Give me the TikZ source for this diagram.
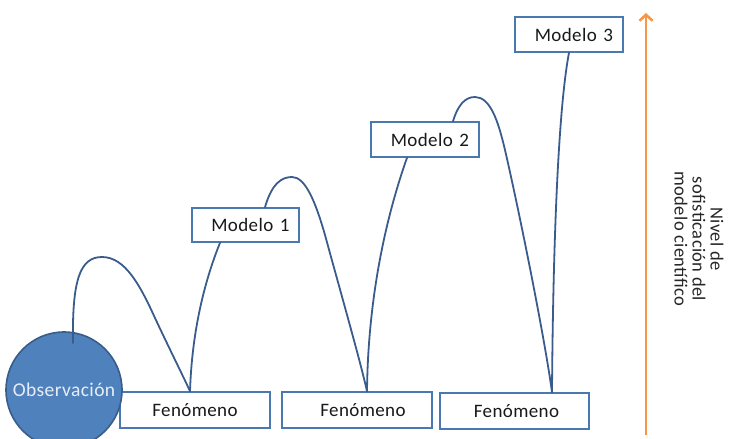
\documentclass[tikz,border=0pt]{standalone}
\usepackage{fontspec}
\setmainfont{Carlito}[LetterSpace=2]
\usetikzlibrary{calc,arrows.meta}
\definecolor{curveblue}{HTML}{3A5C8C}
\definecolor{boxblue}{HTML}{4A78B0}
\definecolor{obsfill}{HTML}{4F81BD}
\definecolor{obsline}{HTML}{385D8A}
\definecolor{arroworange}{HTML}{F79646}
\definecolor{obstext}{HTML}{E6EDF6}
\tikzset{
  fenbox/.style={draw=boxblue, line width=1.6pt, fill=white, rectangle, minimum width=150pt, minimum height=36pt, inner sep=0pt, font=\fontsize{19}{22}\selectfont, text=black!90},
  modbox/.style={draw=boxblue, line width=1.6pt, fill=white, rectangle, minimum width=108pt, minimum height=35pt, inner sep=0pt, font=\fontsize{19}{22}\selectfont, text=black!90},
  obsnode/.style={circle, fill=obsfill, draw=obsline, line width=1.6pt, minimum size=116pt, inner sep=0pt, font=\fontsize{19.5}{22}\selectfont, text=obstext},
  link/.style={draw=curveblue, line width=1.8pt, line cap=round},
  levelarrow/.style={draw=arroworange, line width=2.6pt, -{Straight Barb[length=6pt,width=13pt]}},
  axislabel/.style={rotate=-90, align=center, font=\fontsize{18.5}{18}\selectfont, text=black!85}
}
\begin{document}
\begin{tikzpicture}[x=1pt,y=-1pt]
\useasboundingbox (0,0) rectangle (732,439);
% boxes
\node[fenbox] (f1) at (195,410) {Fenómeno\hspace{26pt}};
\node[fenbox] (f2) at (357,410) {\hspace{12pt}Fenómeno};
\node[fenbox, minimum width=149pt] (f3) at (514.5,411) {\hspace{4pt}Fenómeno};
\node[modbox, minimum width=107pt, minimum height=34pt] (m1) at (245.5,225) {\hspace{10pt}Modelo\hspace{2pt} 1};
\node[modbox] (m2) at (425,139.5) {\hspace{10pt}Modelo\hspace{2pt} 2};
\node[modbox] (m3) at (569,34.5) {\hspace{10pt}Modelo\hspace{2pt} 3};
% observation
\node[obsnode] (obs) at (64,390) {\raisebox{1pt}{Observación}};
% connectors
\coordinate (o1) at ($(obs.center)+(9,-47)$);
\coordinate (f1t) at ($(f1.north)+(-5,0)$);
\coordinate (m1b) at ($(m1.south)+(-25.5,0)$);
\coordinate (m1t) at ($(m1.north)+(19.5,0)$);
\coordinate (f2t) at ($(f2.north)+(10,0)$);
\coordinate (m2b) at ($(m2.south)+(-18,0)$);
\coordinate (m2t) at ($(m2.north)+(28,0)$);
\coordinate (f3t) at ($(f3.north)+(37.5,0)$);
\coordinate (m3b) at (m3.south);
\draw[link] (o1) .. controls (72,280) and (80,257) .. (102,257)
  .. controls (125,257) and (140,285) .. (155,318)
  .. controls (170,350) and (185,380) .. (f1t);
\draw[link] (f1t) .. controls (192,330) and (205,280) .. (m1b);
\draw[link] (m1t) .. controls (272,183) and (282,177) .. (292,177)
  .. controls (305,177) and (315,200) .. (325,235)
  .. controls (340,290) and (360,360) .. (f2t);
\draw[link] (f2t) .. controls (368,300) and (385,220) .. (m2b);
\draw[link] (m2t) .. controls (458,105) and (465,97) .. (475,97)
  .. controls (490,97) and (498,120) .. (505,150)
  .. controls (520,215) and (545,340) .. (f3t);
\draw[link] (f3t) .. controls (553,250) and (558,110) .. (m3b);
% level arrow
\coordinate (abot) at (646,435);
\coordinate (atop) at (646,13);
\draw[levelarrow] (abot) -- (atop);
\node[axislabel] (lbl) at (699,239) {Nivel de\\sofisticación del\\modelo científico};
\end{tikzpicture}
\end{document}
